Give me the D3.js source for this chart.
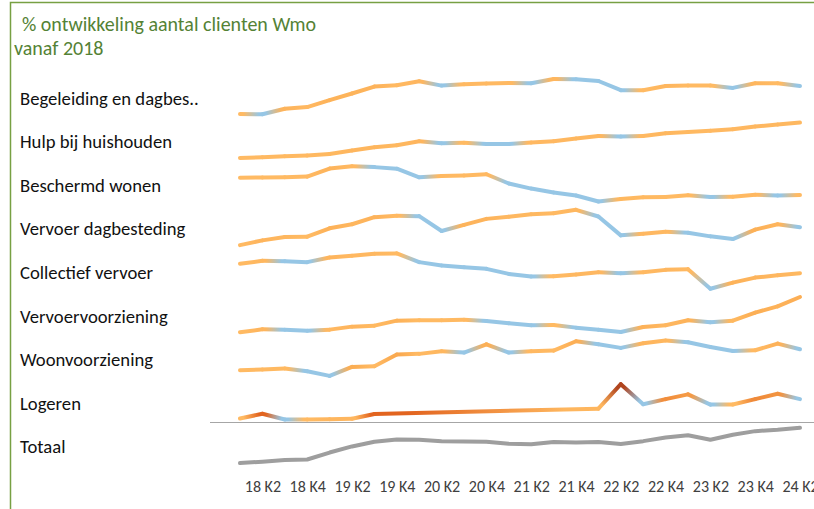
<!DOCTYPE html>
<html>
<head>
<meta charset="utf-8">
<script src="https://cdn.jsdelivr.net/npm/d3@7"></script>
<style>
  html, body { margin: 0; padding: 0; background: #fff; overflow: hidden; }
  svg { display: block; }
</style>
</head>
<body>
<svg id="chart" width="814" height="509"></svg>
<script>
// Quarters from 2018 Q1 to 2024 Q2
const quarters = ["18 K1","18 K2","18 K3","18 K4","19 K1","19 K2","19 K3","19 K4",
                  "20 K1","20 K2","20 K3","20 K4","21 K1","21 K2","21 K3","21 K4",
                  "22 K1","22 K2","22 K3","22 K4","23 K1","23 K2","23 K3","23 K4",
                  "24 K1","24 K2"];
const tickLabels = ["18 K2","18 K4","19 K2","19 K4","20 K2","20 K4","21 K2","21 K4",
                    "22 K2","22 K4","23 K2","23 K4","24 K2"];

const rowNames = ["Begeleiding en dagbes..","Hulp bij huishouden","Beschermd wonen",
                  "Vervoer dagbesteding","Collectief vervoer","Vervoervoorziening",
                  "Woonvoorziening","Logeren","Totaal"];

// % change in number of clients relative to 2018 K1
const begeleiding = [0,-0.2,3.2,4.2,8.4,12.4,16.6,17.4,19.8,17.2,18.0,18.4,18.8,18.6,21.2,21.0,20.0,14.4,14.4,17.0,17.2,17.2,15.8,18.6,18.6,17.0];
const hulp        = [0,0.5,1.3,1.8,3.0,5.5,8.0,9.5,12.5,11.0,11.3,10.5,10.4,11.5,12.5,14.5,16.5,16.0,16.5,18.5,19.5,20.3,21.5,23.5,25.0,26.5];
const beschermd   = [0,0.1,0.2,0.5,4.0,5.0,4.6,3.9,0.2,0.8,1.0,1.5,-2.5,-4.7,-6.4,-7.7,-10.3,-9.2,-8.5,-8.3,-7.6,-8.3,-8.2,-7.4,-7.7,-7.5];
const vervoerDag  = [0,2.8,4.8,5.0,10.0,12.4,16.6,17.4,17.2,8.4,12.0,15.6,16.8,18.4,19.0,21.0,17.0,5.8,6.8,8.0,7.4,5.2,3.6,9.2,12.4,10.6];
const collectief  = [0,1.8,1.6,1.0,3.8,4.8,6.0,6.2,1.0,-1.0,-2.0,-3.0,-6.0,-7.6,-7.4,-6.4,-5.0,-5.6,-5.0,-3.6,-3.2,-14.8,-11.2,-8.2,-6.8,-5.6];
const vervoerVz   = [0,2.7,2.4,1.5,2.4,5.1,6.0,10.5,10.8,10.8,11.4,10.2,8.1,6.3,6.6,4.2,2.4,0.3,4.8,6.3,10.8,9.0,10.5,17.7,23.4,31.8];
const woonVz      = [0,0.5,1.3,-0.8,-4.3,2.5,3.0,11.8,12.3,14.3,13.3,19.5,13.3,14.3,14.8,21.8,19.5,16.8,20.3,22.3,21.0,17.5,14.5,15.0,20.0,15.8];
const logeren     = [0,28,-6,-6,-4,-2,26,null,null,null,null,null,null,null,null,null,58,202,84,114,142,82,82,114,146,114];
const totaal      = [0,0.5,1.1,1.3,3.8,6.0,7.7,8.5,8.4,7.9,7.8,7.7,7.0,6.8,7.6,7.4,7.6,6.9,7.9,9.2,10.0,8.4,10.2,11.5,12.0,12.7];

const rows = [begeleiding, hulp, beschermd, vervoerDag, collectief, vervoerVz, woonVz, logeren, totaal];

const svg = d3.select("#chart");
const W = 814, H = 509;
const font = "Carlito, Calibri, Lato, 'Liberation Sans', sans-serif";

// frame
svg.append("path")
  .attr("d", `M10.5,${H} L10.5,2.5 L${W},2.5`)
  .attr("fill", "none").attr("stroke", "#77a043").attr("stroke-width", 1.5);

// title
const title = svg.append("text").attr("font-family", font).attr("font-size", 20)
  .attr("fill", "#548235");
title.append("tspan").attr("x", 22).attr("y", 31).text("% ontwikkeling aantal clienten Wmo");
title.append("tspan").attr("x", 14).attr("y", 55).text("vanaf 2018");

const x = d3.scalePoint().domain(quarters).range([240, 800]);

const rowTop0 = 79, rowStep = 43.6, rowH = 35.3;

// colour of a vertex from the relative change with the previous valid point
const blue = "#96c6e5";
const incColor = d3.scaleLinear()
  .domain([0, 0.08, 0.28, 0.9])
  .range(["#ffba63", "#fbac52", "#e2641f", "#b0441e"])
  .clamp(true);

const defs = svg.append("defs");
let gid = 0;

rows.forEach((vals, r) => {
  const top = rowTop0 + r * rowStep;
  const ext = d3.extent(vals.filter(v => v != null));
  const y = d3.scaleLinear().domain(ext).range([top + rowH, top]);

  // label
  svg.append("text")
    .attr("x", 20).attr("y", top + 19).attr("dy", "0.35em")
    .attr("font-family", font).attr("font-size", 18.67).attr("fill", "#111")
    .text(rowNames[r]);

  const pts = [];
  vals.forEach((v, i) => { if (v != null) pts.push({ i, v }); });

  const isTotal = r === rows.length - 1;
  pts.forEach((p, k) => {
    if (k === 0) { p.c = "#ffba63"; return; }
    const prev = pts[k - 1];
    const gap = p.i - prev.i;
    const rel = Math.pow((100 + p.v) / (100 + prev.v), 1 / gap) - 1;
    p.c = p.v >= prev.v ? incColor(rel) : blue;
  });

  if (isTotal) {
    svg.append("path")
      .datum(pts)
      .attr("d", d3.line().x(d => x(quarters[d.i])).y(d => y(d.v)))
      .attr("fill", "none").attr("stroke", "#9e9e9e").attr("stroke-width", 4)
      .attr("stroke-linecap", "round").attr("stroke-linejoin", "round");
    return;
  }

  const g = svg.append("g");
  for (let k = 1; k < pts.length; k++) {
    const a = pts[k - 1], b = pts[k];
    const x1 = x(quarters[a.i]), y1 = y(a.v), x2 = x(quarters[b.i]), y2 = y(b.v);
    const id = "sg" + (gid++);
    const grad = defs.append("linearGradient").attr("id", id)
      .attr("gradientUnits", "userSpaceOnUse")
      .attr("x1", x1).attr("y1", y1).attr("x2", x2).attr("y2", y2);
    grad.append("stop").attr("offset", "15%").attr("stop-color", a.c);
    grad.append("stop").attr("offset", "85%").attr("stop-color", b.c);
    g.append("line")
      .attr("x1", x1).attr("y1", y1).attr("x2", x2).attr("y2", y2)
      .attr("stroke", `url(#${id})`).attr("stroke-width", 4)
      .attr("stroke-linecap", "round");
  }

  // separator below the last sparkline before the total
  if (r === rows.length - 2) {
    svg.append("line")
      .attr("x1", 210).attr("x2", W)
      .attr("y1", top + rowH + 3).attr("y2", top + rowH + 3)
      .attr("stroke", "#a6a6a6").attr("stroke-width", 1.2);
  }
});

// category axis
const axis = d3.axisBottom(x).tickValues(tickLabels).tickSize(0).tickPadding(0);
const ag = svg.append("g").attr("transform", "translate(0,481)").call(axis);
ag.select(".domain").remove();
ag.selectAll("text")
  .attr("font-family", font).attr("font-size", 16).attr("fill", "#404040");
</script>
</body>
</html>
